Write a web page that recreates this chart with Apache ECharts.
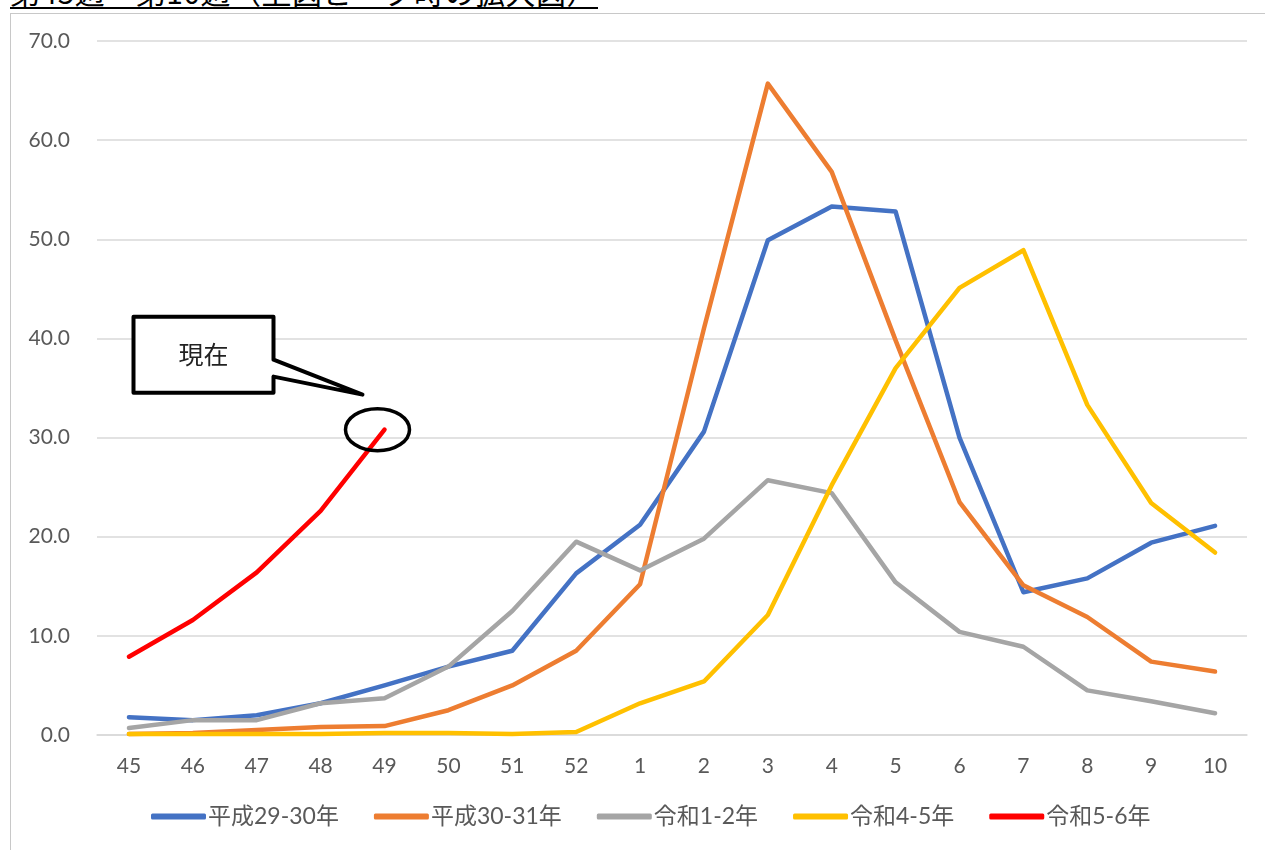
<!DOCTYPE html>
<html>
<head>
<meta charset="utf-8">
<script src="https://cdn.jsdelivr.net/npm/echarts@6/dist/echarts.min.js"></script>
<style>
  html, body { margin: 0; padding: 0; background: #fff; overflow: hidden; }
  #title { position: absolute; left: 10px; top: -24px; height: 31px; line-height: 31px; font-size: 30px;
           font-family: "Noto Sans CJK JP", sans-serif; color: #000; border-bottom: 2.5px solid #000;
           white-space: nowrap; width: 588px; letter-spacing: 0.5px; overflow: hidden; }
  #frame { position: absolute; left: 10px; top: 13px; width: 1300px; height: 900px; border: 1.5px solid #c8c8c8; }
  #chart { position: absolute; left: 0; top: 0; width: 1265px; height: 850px; }
</style>
</head>
<body>
<div id="title">第45週～第10週（上図ピーク時の拡大図）</div>
<div id="frame"></div>
<div id="chart"></div>
<script>
const weeks = ['45','46','47','48','49','50','51','52','1','2','3','4','5','6','7','8','9','10'];
const seriesNames = ['平成29-30年','平成30-31年','令和1-2年','令和4-5年','令和5-6年'];
const h29 = [1.8,1.5,2.0,3.2,5.0,6.9,8.5,16.3,21.2,30.6,49.9,53.3,52.8,30.0,14.4,15.8,19.4,21.1];
const h30 = [0.1,0.2,0.5,0.8,0.9,2.5,5.0,8.5,15.2,41.0,65.7,56.8,39.8,23.5,15.1,11.9,7.4,6.4];
const r1  = [0.7,1.5,1.5,3.2,3.7,6.9,12.5,19.5,16.6,19.8,25.7,24.4,15.4,10.4,8.9,4.5,3.4,2.2];
const r4  = [0.1,0.1,0.1,0.1,0.2,0.2,0.1,0.3,3.2,5.4,12.1,25.2,37.0,45.1,48.9,33.3,23.4,18.4];
const r5  = [7.9,11.6,16.4,22.6,30.8,null,null,null,null,null,null,null,null,null,null,null,null,null];
const yTicks = [0,10,20,30,40,50,60,70];
const colors = ['#4472C4','#ED7D31','#A5A5A5','#FFC000','#FF0000'];
const calloutText = '現在';

const allData = [h29, h30, r1, r4, r5];
const font = 'Lato, "Noto Sans CJK JP", sans-serif';

const chart = echarts.init(document.getElementById('chart'), null, {renderer: 'canvas'});
chart.setOption({
  animation: false,
  color: colors,
  grid: { left: 97, right: 18, top: 41, bottom: 115, containLabel: false },
  xAxis: {
    type: 'category', data: weeks, boundaryGap: true,
    axisLine: { lineStyle: { color: '#d9d9d9', width: 1.5 } },
    axisTick: { show: false },
    axisLabel: { color: '#595959', fontSize: 21, fontFamily: font, margin: 21 }
  },
  yAxis: {
    type: 'value', min: yTicks[0], max: yTicks[yTicks.length-1], interval: 10,
    axisLine: { show: false }, axisTick: { show: false },
    axisLabel: { color: '#595959', fontSize: 21, fontFamily: font, margin: 27,
                 formatter: v => v.toFixed(1) },
    splitLine: { lineStyle: { color: '#d9d9d9', width: 1.5 } }
  },
  legend: {
    bottom: 17, left: 146, itemWidth: 55, itemHeight: 6, icon: 'roundRect', itemGap: 35,
    textStyle: { color: '#595959', fontSize: 23, fontFamily: font, padding: [0,0,0,-3] },
    data: seriesNames
  },
  series: allData.map((d, i) => ({
    name: seriesNames[i], type: 'line', data: d, showSymbol: false, symbol: 'none',
    lineStyle: { width: 4.5, color: colors[i], cap: 'round', join: 'round' },
    itemStyle: { color: colors[i] },
    connectNulls: false, z: 2 + i
  }))
});

const p = chart.convertToPixel({ seriesIndex: 4 }, [4, r5[4]]);
const bx = p[0] - 251, by = p[1] - 113;
chart.setOption({
  graphic: [
    { type: 'ellipse', shape: { cx: p[0] - 7, cy: p[1], rx: 32, ry: 21 },
      style: { fill: 'none', stroke: '#000', lineWidth: 3.5 }, z: 100 },
    { type: 'polygon', shape: { points: [
        [bx, by], [bx + 140, by], [bx + 140, by + 43], [bx + 229, by + 78],
        [bx + 140, by + 60], [bx + 140, by + 76], [bx, by + 76] ] },
      style: { fill: '#fff', stroke: '#000', lineWidth: 4, lineJoin: 'round' }, z: 100 },
    { type: 'text', x: bx + 70, y: by + 38,
      style: { text: calloutText, fill: '#222', fontSize: 25, fontFamily: '"Noto Sans CJK JP", sans-serif',
               align: 'center', verticalAlign: 'middle' }, z: 101 }
  ]
});
</script>
</body>
</html>
